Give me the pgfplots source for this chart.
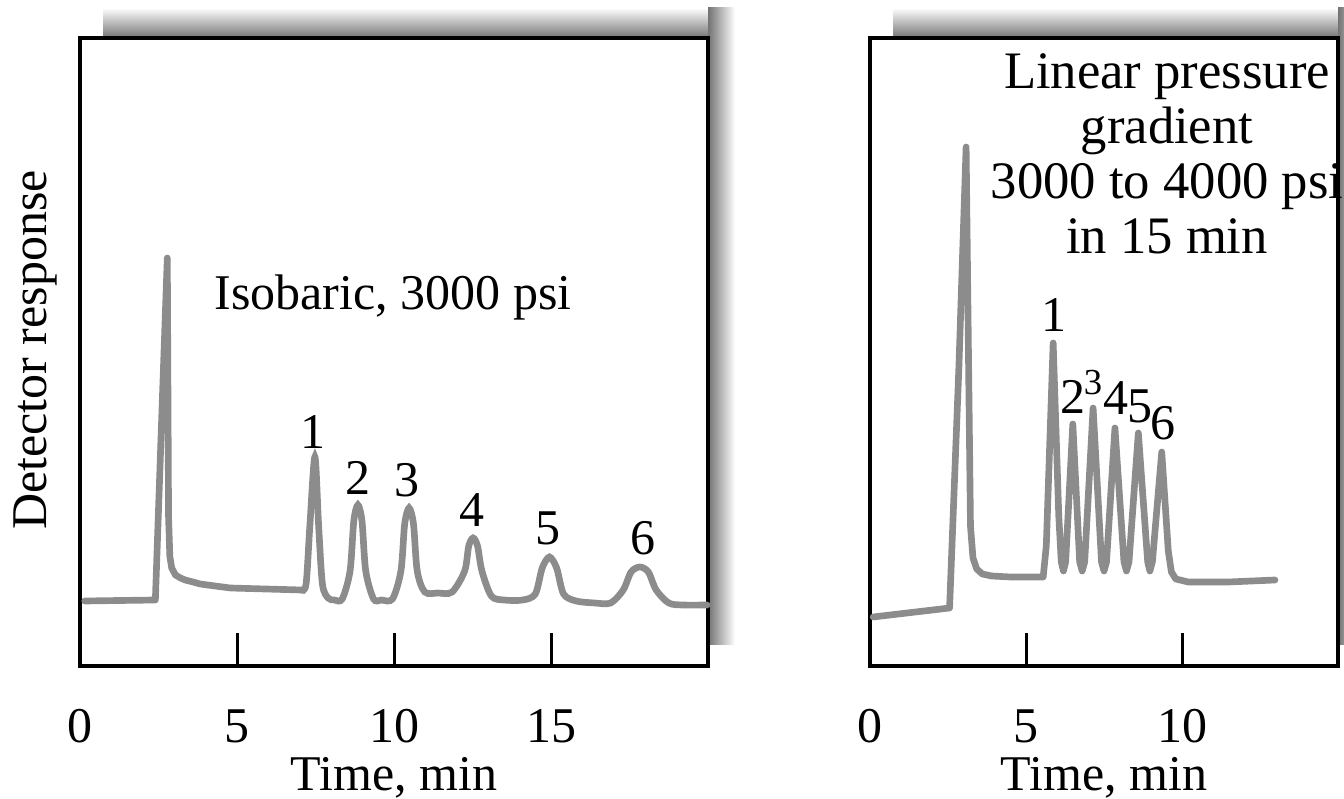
\documentclass[border=0pt]{standalone}
\usepackage{fontspec}
\setmainfont{Liberation Serif}
\usepackage{pgfplots}
\pgfplotsset{compat=1.18}
\definecolor{trace}{RGB}{140,140,140}

\pgfplotsset{chrom/.style={
    scale only axis,
    height=188.4pt,
    ymin=0, ymax=628,
    ytick=\empty,
    xtick pos=bottom,
    tick align=inside,
    major tick length=10pt,
    axis line style={line width=1pt},
    xtick style={line width=0.9pt, black},
    xticklabel style={inner sep=1pt, yshift=-11.9pt},
    /pgf/number format/assume math mode=true,
    xlabel={Time, min},
    xlabel style={inner sep=1pt, at={(axis description cs:0.5,0)}, anchor=center, yshift=-33.5pt},
    clip=false,
}}
\tikzset{pk/.style={inner sep=1pt}}

\begin{document}
\begin{tikzpicture}[font=\fontsize{15}{18}\selectfont]
\path[use as bounding box] (-24pt,-39.9pt) rectangle (379.2pt,199.8pt);

% drop shadows behind the two frames
\shade[top color=white, bottom color=black!55] (6.9pt,188.4pt) rectangle (188.4pt,197.4pt);
\shade[left color=black!55, right color=white] (188.4pt,6.3pt) rectangle (196.5pt,197.4pt);
\shade[top color=white, bottom color=black!55] (243.9pt,188.4pt) rectangle (377.4pt,197.4pt);
\shade[left color=black!55, right color=white] (377.4pt,6.3pt) rectangle (385.5pt,197.4pt);

% isobaric run
\begin{axis}[chrom, width=188.4pt, xmin=0, xmax=20, xtick={0,5,10,15}]
\addplot[trace, line width=2pt, line join=round, line cap=round] coordinates {
(0.15,65) (2.40,66) (2.78,408) (2.82,150) (2.86,110) (2.92,98) (3.04,91) (3.20,88)
(3.35,86) (3.60,84) (3.83,82) (4.30,80) (4.79,78) (5.90,77) (7.05,76)};
\addplot[trace, line width=2pt, smooth, tension=0.5, line cap=round] coordinates {
(7.05,76) (7.20,82) (7.32,140) (7.48,209) (7.60,140) (7.72,82) (7.90,68) (8.10,66)
(8.35,67) (8.60,95) (8.72,145) (8.85,161) (8.98,145) (9.10,95) (9.35,67) (9.60,66)
(9.95,67) (10.22,95) (10.34,142) (10.48,158) (10.62,142) (10.74,95) (10.98,74) (11.4,73)
(11.85,74) (12.25,95) (12.38,120) (12.52,128) (12.66,120) (12.80,95) (13.1,70) (13.5,66)
(14.1,66) (14.5,72) (14.72,98) (14.95,109) (15.18,98) (15.40,72) (15.8,65) (16.4,63)
(16.9,63) (17.3,76) (17.55,94) (17.83,99) (18.1,94) (18.35,76) (18.75,63) (19.2,61)
(19.97,61)};
\node at (axis cs:9.97,369) {Isobaric, 3000 psi};
\node[pk] at (axis cs:7.41,234) {1};
\node[pk] at (axis cs:8.85,188) {2};
\node[pk] at (axis cs:10.42,186) {3};
\node[pk] at (axis cs:12.49,156) {4};
\node[pk] at (axis cs:14.89,138) {5};
\node[pk] at (axis cs:17.92,128) {6};
\end{axis}

% pressure gradient run
\begin{axis}[chrom, at={(237pt,0pt)}, width=140.4pt, xmin=0, xmax=15, xtick={0,5,10}]
\addplot[trace, line width=2pt, line join=round, line cap=round] coordinates {
(0.10,49) (2.55,58) (2.85,300) (3.08,519) (3.16,300) (3.22,140) (3.30,108) (3.42,97)
(3.6,92) (3.9,90) (4.5,89) (5.55,89) (5.65,120) (5.87,323) (6.05,150) (6.13,104) (6.2,95)
(6.27,104) (6.5,242) (6.72,104) (6.8,95) (6.88,104) (7.15,258) (7.42,104) (7.5,95)
(7.58,104) (7.85,238) (8.14,104) (8.22,95) (8.3,104) (8.6,233) (8.9,104) (8.97,95)
(9.05,104) (9.35,214) (9.56,115) (9.66,94) (9.80,87) (10.2,84) (11.5,84) (12.98,86)};
\node[align=center, font=\fontsize{15.8}{16.5}\selectfont] at (axis cs:9.52,512)
  {Linear pressure\\gradient\\3000 to 4000 psi\\in 15 min};
\node[pk] at (axis cs:5.90,351) {1};
\node[pk] at (axis cs:6.51,269) {2};
\node[pk, font=\fontsize{11}{13}\selectfont] at (axis cs:7.15,283) {3};
\node[pk] at (axis cs:7.88,268) {4};
\node[pk] at (axis cs:8.65,260) {5};
\node[pk] at (axis cs:9.39,243) {6};
\end{axis}

\node[rotate=90] at (-13.5pt,94.8pt) {Detector response};
\end{tikzpicture}
\end{document}
